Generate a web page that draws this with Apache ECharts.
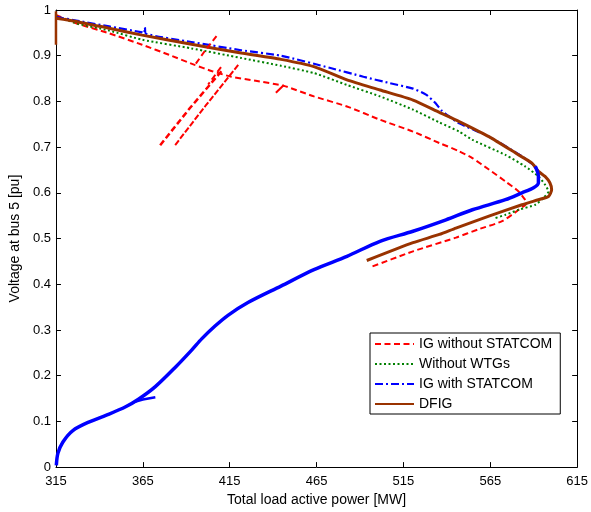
<!DOCTYPE html>
<html>
<head>
    <meta charset="utf-8">
    <title>PV curves</title>
    <style>
        *{ margin:0; padding:0; box-sizing:border-box; }
        html, body, #chart{ width:100%; height:100%; overflow:hidden; background:#fff; }
    </style>
</head>
<body>
    <div id="chart"></div>
    <script src="https://cdn.jsdelivr.net/npm/echarts@6/dist/echarts.min.js"></script>
    <script>
        // axis ticks
        var xTicks = [315, 365, 415, 465, 515, 565, 615];
        var yTicks = [0, 0.1, 0.2, 0.3, 0.4, 0.5, 0.6, 0.7, 0.8, 0.9, 1];

        var names = ['IG without STATCOM', 'Without WTGs', 'IG with STATCOM', 'DFIG'];

        // IG without STATCOM (red dashed) - main curve + the stray branches
        var redMain = [
            [315,0.989],[326.6,0.971],[345.6,0.949],[364.6,0.924],[380,0.902],[394.8,0.880],
            [405,0.866],[415.9,0.854],[430,0.845],[446.2,0.834],[463.5,0.811],[482.5,0.789],
            [501.5,0.760],[520.5,0.734],[535.7,0.709],[547.1,0.691],[554.7,0.676],[564.2,0.651],
            [573.7,0.625],[581.3,0.603],[585,0.585],[586,0.578],[581,0.562],[571.8,0.538],
            [558,0.520],[545.2,0.502],[520.5,0.472],[495.8,0.437]
        ];
        var redBranchA = [[407.4,0.943],[401,0.912],[395.4,0.882]];
        var redBranchB = [[410.2,0.866],[392,0.785],[374.3,0.701]];
        var redBranchB2 = [[410,0.875],[402.6,0.837]];
        var redBranchC = [[419.9,0.880],[401,0.790],[382.9,0.701]];
        var redBranchD = [[446.2,0.836],[441.6,0.819]];

        // Without WTGs (green dotted)
        var greenMain = [
            [315,0.987],[326.6,0.971],[345.6,0.955],[364.6,0.935],[393,0.916],[421.6,0.895],
            [444.5,0.878],[463.5,0.862],[482.5,0.836],[501.5,0.811],[520.5,0.782],[535.7,0.754],
            [547.1,0.734],[554.7,0.716],[573.7,0.683],[585,0.658],[592.7,0.636],[596.5,0.618],
            [598.5,0.603],[595.6,0.589],[590.9,0.574],[581.3,0.563],[573.7,0.552],[568,0.545]
        ];

        // IG with STATCOM (blue) - upper dash-dot part, lower dense part, small hook
        var blueUpper = [
            [315,0.985],[326.6,0.977],[345.6,0.964],[364.6,0.951],[365.8,0.949],[366.2,0.962],
            [366.8,0.948],[393,0.930],[421.6,0.912],[444.5,0.900],[473,0.873],[492,0.854],
            [507.2,0.840],[520.5,0.828],[528,0.815],[533,0.798],[537,0.780],[541.4,0.767],
            [547.1,0.752],[564.2,0.723],[583.2,0.680],[590.9,0.658]
        ];
        var blueLower = [
            [590.9,0.658],[592.7,0.636],[592.7,0.622],[589.9,0.611],[583.2,0.600],[573.7,0.585],
            [554.7,0.563],[539.5,0.541],[520.5,0.516],[501.5,0.494],[482.5,0.461],[463.5,0.432],
            [444.5,0.396],[425.5,0.360],[414,0.332],[406.4,0.308],[399,0.281],[393.1,0.256],
            [383.6,0.218],[372.2,0.176],[362.7,0.149],[355.1,0.132],[345.6,0.116],[334.2,0.099],
            [324.7,0.080],[319,0.055],[316.1,0.030],[315.2,0.004]
        ];
        var blueHook = [[358.9,0.141],[365,0.148],[372.2,0.153]];

        // DFIG (brown solid)
        var brownMain = [
            [315,0.982],[326.6,0.975],[345.6,0.960],[364.6,0.945],[393,0.925],[421.6,0.906],
            [444.5,0.892],[463.5,0.876],[482.5,0.847],[501.5,0.825],[520.5,0.803],[535.7,0.776],
            [547.1,0.756],[564.2,0.723],[581.3,0.683],[589,0.665],[592.7,0.647],[596.5,0.636],
            [599.3,0.622],[600.3,0.607],[598.5,0.592],[592.7,0.585],[583.2,0.574],[564.2,0.549],
            [545.2,0.523],[535.7,0.509],[520.5,0.491],[493.9,0.452]
        ];
        var brownStart = [[315,0.924],[315,0.997]];

        var RED = '#ff0000', GREEN = '#008000', BLUE = '#0000ff', BROWN = '#993300';

        function seg(name, data, color, width, type, smooth) {
            return {
                name: name, type: 'line', data: data, showSymbol: false, symbol: 'none',
                smooth: smooth || false,
                lineStyle: { color: color, width: width, type: type },
                itemStyle: { color: color },
                emphasis: { disabled: true }, z: 2
            };
        }

        var series = [
            seg(names[0], redMain, RED, 2, [6, 3.5], 0.2),
            seg(names[1], greenMain, GREEN, 2, [2, 2.5], 0.2),
            seg(names[2], blueUpper, BLUE, 2.2, [8, 3, 2, 3], 0.2),
            seg(names[3], brownMain, BROWN, 3, 'solid', 0.2),
            seg(names[0], redBranchA, RED, 2, [6, 3.5]),
            seg(names[0], redBranchB, RED, 2.5, [6, 3]),
            seg(names[0], redBranchB2, RED, 2, [6, 3.5]),
            seg(names[0], redBranchC, RED, 2, [6, 2]),
            seg(names[0], redBranchD, RED, 2, 'solid'),
            seg(names[2], blueLower, BLUE, 3.5, 'solid', 0.3),
            seg(names[2], blueHook, BLUE, 2.5, 'solid'),
            seg(names[3], brownStart, BROWN, 2.5, 'solid')
        ];

        var font = 'Liberation Sans, Arial, sans-serif';

        function xAx(pos, labels) {
            return {
                type: 'value', position: pos, min: 315, max: 615, interval: 50,
                axisLine: { show: true, onZero: false, lineStyle: { color: '#000', width: 1 } },
                axisTick: { show: true, inside: true, length: 5, lineStyle: { color: '#000' } },
                axisLabel: { show: labels, color: '#000', fontSize: 13, fontFamily: font, margin: 8 },
                splitLine: { show: false },
                name: labels ? 'Total load active power [MW]' : '',
                nameLocation: 'middle', nameGap: 22,
                nameTextStyle: { color: '#000', fontSize: 14, fontFamily: font }
            };
        }
        function yAx(pos, labels) {
            return {
                type: 'value', position: pos, min: 0, max: 1, interval: 0.1,
                axisLine: { show: true, onZero: false, lineStyle: { color: '#000', width: 1 } },
                axisTick: { show: true, inside: true, length: 5, lineStyle: { color: '#000' } },
                axisLabel: { show: labels, color: '#000', fontSize: 13, fontFamily: font, margin: 5,
                    formatter: function (v) { return String(+v.toFixed(1)); } },
                splitLine: { show: false },
                name: labels ? 'Voltage at bus 5 [pu]' : '',
                nameLocation: 'middle', nameGap: 31,
                nameTextStyle: { color: '#000', fontSize: 14, fontFamily: font }
            };
        }

        var chart = echarts.init(document.getElementById('chart'), null, { renderer: 'canvas' });
        chart.setOption({
            animation: false,
            backgroundColor: '#fff',
            grid: { left: 53, right: 12, top: 10, bottom: 44, show: false },
            xAxis: [xAx('bottom', true), xAx('top', false)],
            yAxis: [yAx('left', true), yAx('right', false)],
            legend: {
                data: names,
                orient: 'vertical',
                left: 370, top: 333,
                itemWidth: 39, itemHeight: 14, itemGap: 6,
                padding: [4, 8, 3, 4],
                backgroundColor: '#fff',
                borderColor: '#000', borderWidth: 1, borderRadius: 0,
                itemStyle: { opacity: 0 },
                textStyle: { color: '#000', fontSize: 14, fontFamily: font },
                selectedMode: false
            },
            series: series
        });
    </script>
</body>
</html>
